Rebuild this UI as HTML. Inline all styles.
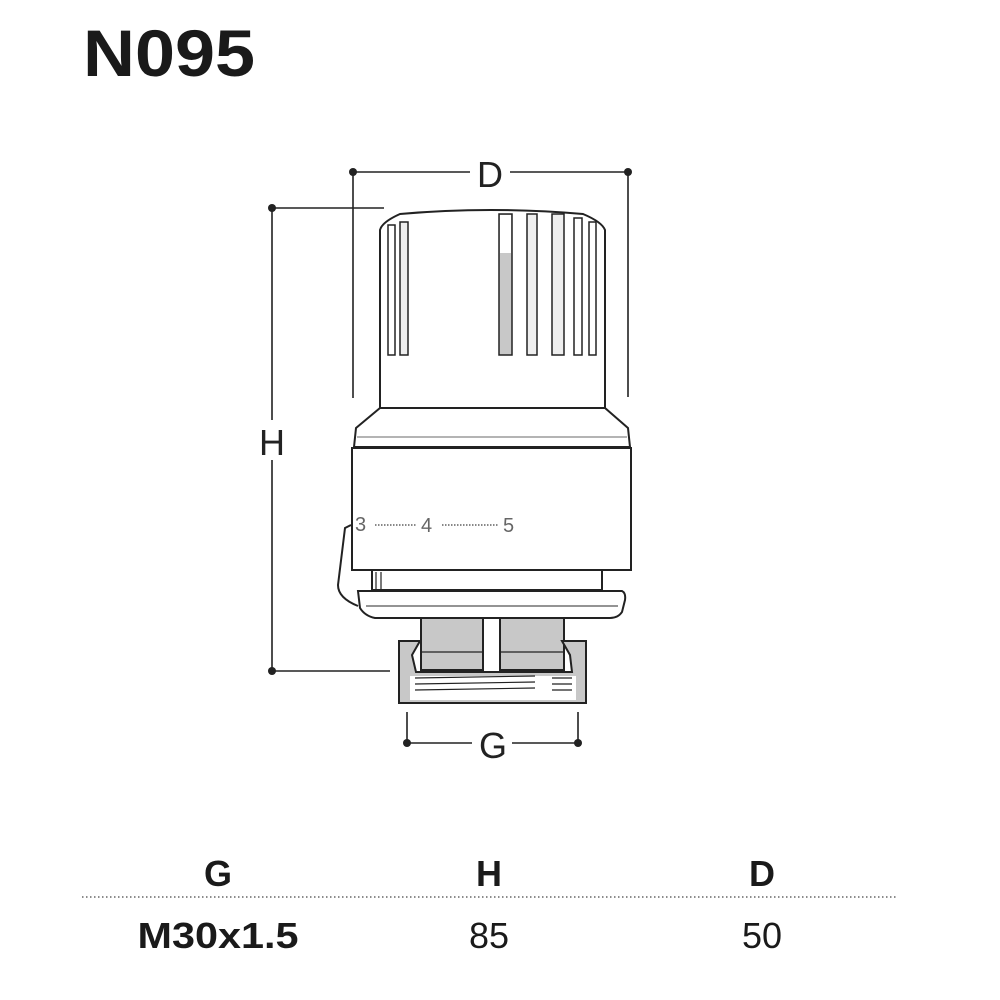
<!DOCTYPE html>
<html><head><meta charset="utf-8"><style>
html,body{margin:0;padding:0;background:#fff;}
svg{display:block;font-family:"Liberation Sans",sans-serif;}
</style></head><body>
<svg width="1000" height="1000" viewBox="0 0 1000 1000">
<text x="83" y="76" font-size="66" font-weight="bold" fill="#1a1a1a" textLength="172" lengthAdjust="spacingAndGlyphs">N095</text>
<g stroke="#222" stroke-width="1.6" fill="none">
<line x1="353" y1="172" x2="628" y2="172"/>
<line x1="353" y1="172" x2="353" y2="398"/>
<line x1="628" y1="172" x2="628" y2="397"/>
<line x1="272" y1="208" x2="272" y2="671"/>
<line x1="272" y1="208" x2="384" y2="208"/>
<line x1="272" y1="671" x2="390" y2="671"/>
<line x1="407" y1="743" x2="578" y2="743"/>
<line x1="407" y1="712" x2="407" y2="746"/>
<line x1="578" y1="712" x2="578" y2="746"/>
</g>
<g fill="#222"><circle cx="353" cy="172" r="4"/><circle cx="628" cy="172" r="4"/>
<circle cx="272" cy="208" r="4"/><circle cx="272" cy="671" r="4"/>
<circle cx="407" cy="743" r="4"/><circle cx="578" cy="743" r="4"/></g>
<rect x="470" y="155" width="40" height="36" fill="#fff"/>
<text x="490" y="187" font-size="36" text-anchor="middle" fill="#222">D</text>
<rect x="255" y="420" width="34" height="40" fill="#fff"/>
<text x="272" y="455" font-size="36" text-anchor="middle" fill="#222">H</text>
<rect x="472" y="726" width="40" height="36" fill="#fff"/>
<text x="493" y="758" font-size="36" text-anchor="middle" fill="#222">G</text>

<g stroke="#222" stroke-width="2" fill="#fff">
<path d="M380,408 L380,230 Q382,222 400,214 Q490,206 583,214 Q602,222 605,230 L605,408 Z"/>
<path d="M380,408 L605,408 L628,428 L630,447 L354,447 L356,428 Z"/>
<rect x="352" y="448" width="279" height="122"/>
<rect x="372" y="570" width="230" height="20"/>
<path d="M351,525 L345,528 L338,585 Q338,598 358,606" fill="none"/>
<path d="M358,591 L622,591 Q626,593 625,600 L622,612 Q618,618 610,618 L375,618 Q365,616 360,608 Z"/>
<rect x="421" y="618" width="62" height="52" fill="#c8c8c8"/>
<rect x="500" y="618" width="64" height="52" fill="#c8c8c8"/>
<path d="M399,641 L420,641 L412,655 L416,672 L572,672 L570,655 L562,641 L586,641 L586,703 L399,703 Z" fill="#c8c8c8"/>
<rect x="410" y="676" width="166" height="24" fill="#fff" stroke="none"/>
<line x1="399" y1="703" x2="586" y2="703"/>
</g>
<g stroke="#222" stroke-width="1.2">
<line x1="415" y1="678" x2="535" y2="676"/><line x1="415" y1="684" x2="535" y2="682"/><line x1="415" y1="690" x2="535" y2="688"/>
<line x1="552" y1="678" x2="572" y2="678"/><line x1="552" y1="684" x2="572" y2="684"/><line x1="552" y1="690" x2="572" y2="690"/>
<line x1="421" y1="652" x2="483" y2="652"/><line x1="500" y1="652" x2="564" y2="652"/>
<line x1="357" y1="437" x2="627" y2="437" stroke="#888"/>
<line x1="366" y1="606" x2="618" y2="606" stroke="#555"/>
<line x1="376" y1="572" x2="376" y2="590"/><line x1="381" y1="572" x2="381" y2="590"/>
</g>
<g stroke="#222" stroke-width="1.5" fill="#fff">
<rect x="388" y="225" width="7" height="130"/>
<rect x="400" y="222" width="8" height="133" fill="#eee"/>
<rect x="499" y="214" width="13" height="141" fill="#c8c8c8"/>
<rect x="527" y="214" width="10" height="141" fill="#eee"/>
<rect x="552" y="214" width="12" height="141" fill="#eee"/>
<rect x="574" y="218" width="8" height="137"/>
<rect x="589" y="222" width="7" height="133"/>
</g>
<rect x="500" y="215" width="11" height="38" fill="#fff"/>
<g font-size="20" fill="#666">
<text x="355" y="531">3</text><text x="421" y="532">4</text><text x="503" y="532">5</text>
</g>
<g stroke="#888" stroke-width="2" stroke-dasharray="1.5,1.5">
<line x1="375" y1="525" x2="416" y2="525"/><line x1="442" y1="525" x2="498" y2="525"/>
</g>

<g font-size="36" text-anchor="middle" fill="#1a1a1a">
<text x="218" y="886" font-weight="bold">G</text>
<text x="489" y="886" font-weight="bold">H</text>
<text x="762" y="886" font-weight="bold">D</text>
<text x="218" y="948" font-weight="bold" textLength="161" lengthAdjust="spacingAndGlyphs">M30x1.5</text>
<text x="489" y="948">85</text>
<text x="762" y="948">50</text>
</g>
<line x1="82" y1="897" x2="898" y2="897" stroke="#666" stroke-width="1.5" stroke-dasharray="1.5,2.5"/>
</svg>
</body></html>
